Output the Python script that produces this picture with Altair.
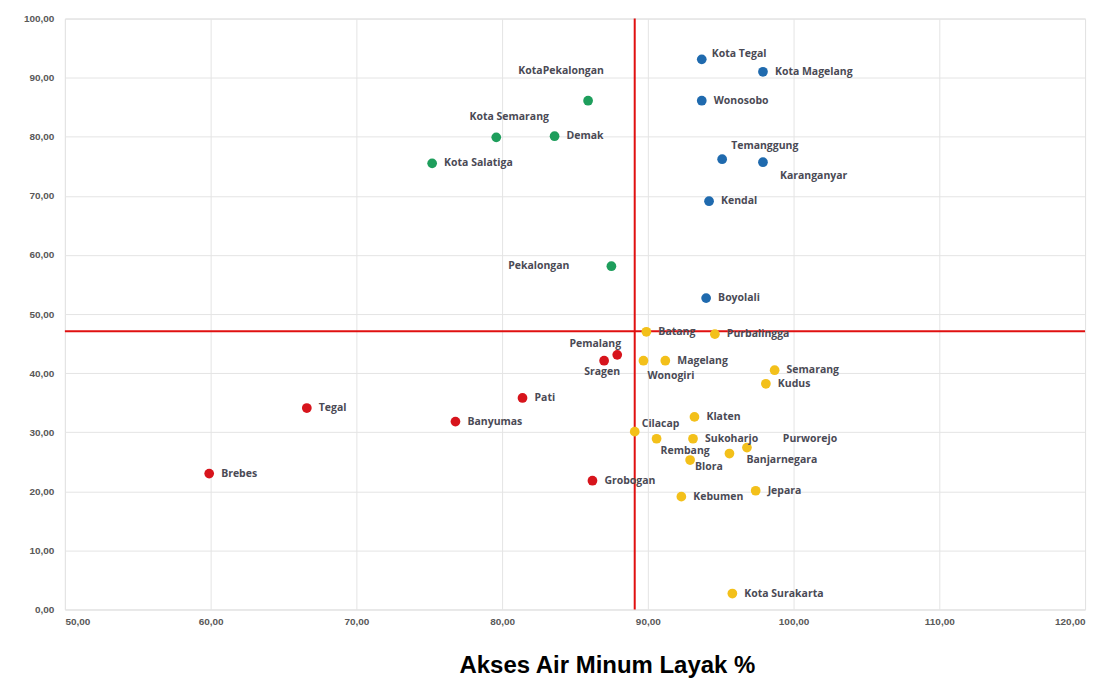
import altair as alt
import pandas as pd

# ---- data ----
names = ["Kota Tegal", "Kota Magelang", "Wonosobo", "Temanggung", "Karanganyar", "Kendal", "Boyolali",
         "KotaPekalongan", "Kota Semarang", "Demak", "Kota Salatiga", "Pekalongan",
         "Pemalang", "Sragen", "Pati", "Banyumas", "Tegal", "Brebes", "Grobogan",
         "Batang", "Purbalingga", "Wonogiri", "Magelang", "Semarang", "Kudus", "Klaten", "Cilacap",
         "Rembang", "Sukoharjo", "Purworejo", "Banjarnegara", "Blora", "Kebumen", "Jepara", "Kota Surakarta"]
x_vals = [93.7, 97.9, 93.7, 95.1, 97.9, 94.2, 94.0,
          85.9, 79.6, 83.6, 75.2, 87.5,
          87.9, 87.0, 81.4, 76.8, 66.6, 59.9, 86.2,
          89.9, 94.6, 89.7, 91.2, 98.7, 98.1, 93.2, 89.1,
          90.6, 93.1, 96.8, 95.6, 92.9, 92.3, 97.4, 95.8]
y_vals = [93.1, 91.0, 86.1, 76.2, 75.7, 69.1, 52.7,
          86.1, 79.9, 80.1, 75.5, 58.1,
          43.1, 42.1, 35.8, 31.8, 34.1, 23.0, 21.8,
          47.0, 46.6, 42.1, 42.1, 40.5, 38.2, 32.6, 30.1,
          28.9, 28.9, 27.4, 26.4, 25.3, 19.1, 20.1, 2.7]
groups = ["I"] * 7 + ["II"] * 5 + ["III"] * 7 + ["IV"] * 16
x_mean = [89.1]
y_mean = [47.1]
x_ticks = [50, 60, 70, 80, 90, 100, 110, 120]
y_ticks = [0, 10, 20, 30, 40, 50, 60, 70, 80, 90, 100]

# ---- styling (label placement relative to each point, in pixels) ----
label_offsets = {
    "Kota Tegal": (10, -5, "left"), "Temanggung": (9, -13, "left"), "Karanganyar": (17, 14, "left"),
    "KotaPekalongan": (-27, -30, "center"), "Kota Semarang": (13, -20, "center"),
    "Pekalongan": (-42, 0, "right"), "Pemalang": (-22, -11, "center"), "Sragen": (-2, 11, "center"),
    "Wonogiri": (4, 15, "left"), "Cilacap": (7, -8, "left"), "Rembang": (4, 12, "left"),
    "Purworejo": (36, -9, "left"), "Banjarnegara": (17, 7, "left"), "Blora": (5, 7, "left"),
}
default_offset = (12, 0, "left")

df = pd.DataFrame({"name": names, "x": x_vals, "y": y_vals, "group": groups})
lines = pd.DataFrame({"xm": x_mean, "ym": y_mean})

xscale = alt.Scale(domain=[50, 120], nice=False, zero=False)
yscale = alt.Scale(domain=[0, 100], nice=False, zero=False)
label_expr = "replace(format(datum.value, '.2f'), '.', ',')"

base = alt.Chart(df)

points = base.mark_circle(size=95, opacity=1).encode(
    x=alt.X("x:Q", scale=xscale,
            axis=alt.Axis(values=x_ticks, labelExpr=label_expr, title="Akses Air Minum  Layak %",
                          grid=True, gridColor="#e4e4e4", domain=False, ticks=False,
                          labelFont="Liberation Sans", labelFontSize=10, labelFontWeight="bold",
                          labelColor="#595959", labelPadding=7,
                          titleFont="Liberation Sans", titleFontSize=24, titleFontWeight="bold",
                          titleColor="#000000", titleX=543, titleY=63, titleAlign="center",
                          titleBaseline="alphabetic")),
    y=alt.Y("y:Q", scale=yscale,
            axis=alt.Axis(values=y_ticks, labelExpr=label_expr, title=None,
                          grid=True, gridColor="#e4e4e4", domain=False, ticks=False,
                          labelFont="Liberation Sans", labelFontSize=10, labelFontWeight="bold",
                          labelColor="#595959", labelPadding=11)),
    color=alt.Color("group:N", legend=None,
                    scale=alt.Scale(domain=["I", "II", "III", "IV"],
                                    range=["#1F6AAE", "#1E9E5C", "#D7141C", "#F3C01A"])),
)

hline = alt.Chart(lines).mark_rule(color="#E01010", strokeWidth=2).encode(
    y=alt.Y("ym:Q", scale=yscale))
vline = alt.Chart(lines).mark_rule(color="#E01010", strokeWidth=2).encode(
    x=alt.X("xm:Q", scale=xscale))

text_layers = []
for n in names:
    dx, dy, align = label_offsets.get(n, default_offset)
    t = base.transform_filter(alt.datum.name == n).mark_text(
        dx=dx, dy=dy, align=align, baseline="middle",
        font="Open Sans", fontSize=10.5, fontWeight="bold", color="#4a4a55",
    ).encode(x=alt.X("x:Q", scale=xscale), y=alt.Y("y:Q", scale=yscale), text="name:N")
    text_layers.append(t)

chart = alt.layer(hline, vline, points, *text_layers).properties(
    width=1022, height=592,
    padding={"left": 57, "top": 10, "right": 20, "bottom": 70},
    autosize=alt.AutoSizeParams(type="none"),
).configure_view(stroke=None).configure(background="white")

chart.save("out.html", embed_options={"renderer": "svg", "actions": False})
